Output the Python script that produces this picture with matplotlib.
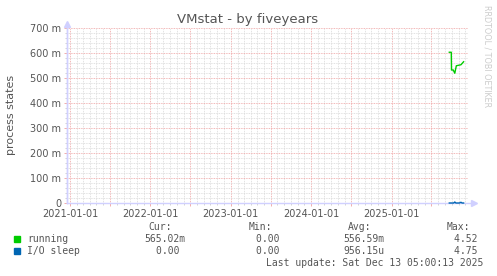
import matplotlib
matplotlib.use('Agg')
import matplotlib.pyplot as plt
import matplotlib.dates as mdates
from matplotlib.ticker import MultipleLocator, FuncFormatter
import numpy as np
import datetime as dt

# values
running_dates = ['2025-09-20', '2025-09-29', '2025-09-30', '2025-10-08',
                 '2025-10-15', '2025-10-22', '2025-11-12', '2025-11-24']
running = [0.603, 0.603, 0.532, 0.532, 0.519, 0.549, 0.553, 0.565]
iosleep_dates = ['2025-09-20', '2025-10-10', '2025-10-15', '2025-10-20',
                 '2025-11-05', '2025-11-12', '2025-11-17', '2025-11-24']
iosleep = [0.0, 0.0, 0.004, 0.0, 0.0, 0.003, 0.0, 0.0]

series = ['running', 'I/O sleep']
colors = ['#00cc00', '#0066b3']
cur = ['565.02m', '0.00 ']
mins = ['0.00 ', '0.00 ']
avgs = ['556.59m', '956.15u']
maxs = ['4.52 ', '4.75 ']
last_update = 'Last update: Sat Dec 13 05:00:13 2025'

W, H = 497, 276
fig = plt.figure(figsize=(W / 100, H / 100), dpi=100)
fig.patch.set_facecolor('white')
ax = fig.add_axes([67 / W, 1 - 203 / H, (468 - 67) / W, (203 - 28) / H])

rd = [np.datetime64(d) for d in running_dates]
idt = [np.datetime64(d) for d in iosleep_dates]
ax.plot(idt, iosleep, color=colors[1], lw=1.0, zorder=5, clip_on=False)
ax.plot(rd, running, color=colors[0], lw=1.0, zorder=6)

ax.set_xlim(dt.date(2020, 12, 18), dt.date(2025, 12, 14))
ax.set_ylim(0, 0.7)

# grid
ax.yaxis.set_major_locator(MultipleLocator(0.1))
ax.yaxis.set_minor_locator(MultipleLocator(0.02))
ax.yaxis.set_major_formatter(FuncFormatter(
    lambda v, p: '0' if abs(v) < 1e-9 else '%d m' % round(v * 1000)))
ax.xaxis.set_major_locator(mdates.MonthLocator(bymonth=[1, 7]))
ax.xaxis.set_minor_locator(mdates.MonthLocator())
ax.xaxis.set_major_formatter(FuncFormatter(
    lambda v, p: mdates.num2date(v).strftime('%Y-%m-%d')
    if mdates.num2date(v).month == 1 else ''))

ax.grid(which='minor', color='#d8d8d8', lw=0.6, ls=(0, (1, 1)))
ax.grid(which='major', color='#eea0a0', lw=0.6, ls=(0, (1, 1)))
ax.set_axisbelow(True)

ax.tick_params(which='major', length=2, width=0.6, color='#f0a0a0',
               labelsize=7, labelcolor='#555555', pad=2)
ax.tick_params(which='minor', length=1.5, width=0.6, color='#cccccc')

for s in ['top', 'right']:
    ax.spines[s].set_visible(False)
ax.spines['bottom'].set_visible(False)
ax.spines['left'].set_color('#d0d0ff')
ax.spines['left'].set_linewidth(1.0)

# axis lines with arrows as in rrdtool
axis_c = '#d0d0ff'
ax.plot([0, 1.012], [0, 0], transform=ax.transAxes, color=axis_c, lw=1.0,
        clip_on=False, zorder=4)
ax.plot([0, 0], [0, 1.015], transform=ax.transAxes, color=axis_c, lw=1.0,
        clip_on=False, zorder=4)
ax.plot([1.014], [0], transform=ax.transAxes, marker='>', ms=4, color=axis_c,
        clip_on=False, zorder=4)
ax.plot([0], [1.022], transform=ax.transAxes, marker='^', ms=4, color=axis_c,
        clip_on=False, zorder=4)

fig.text(11 / W, 1 - 115 / H, 'process states', rotation=90, ha='center',
         va='center', fontsize=8, color='#555555')
fig.text(248 / W, 1 - 19 / H, 'VMstat - by fiveyears', ha='center',
         va='center', fontsize=9.5, color='#555555')
fig.text(487 / W, 1 - 5 / H, 'RRDTOOL / TOBI OETIKER', rotation=270,
         ha='center', va='top', fontsize=5.8, color='#cccccc')

# legend block
mono = dict(family='DejaVu Sans Mono', fontsize=7, color='#555555')
hdr_y = 1 - 227 / H
fig.text(172 / W, hdr_y, 'Cur:', ha='right', va='center', **mono)
fig.text(272 / W, hdr_y, 'Min:', ha='right', va='center', **mono)
fig.text(371 / W, hdr_y, 'Avg:', ha='right', va='center', **mono)
fig.text(470 / W, hdr_y, 'Max:', ha='right', va='center', **mono)
for i, name in enumerate(series):
    y = 1 - (239 + 12 * i) / H
    fig.patches.append(plt.Rectangle((14 / W, y - 2.8 / H), 6 / W, 6 / H,
                                     transform=fig.transFigure,
                                     color=colors[i]))
    fig.text(27 / W, y, name, ha='left', va='center', **mono)
    fig.text(185 / W, y, cur[i], ha='right', va='center', **mono)
    fig.text(285 / W, y, mins[i], ha='right', va='center', **mono)
    fig.text(384 / W, y, avgs[i], ha='right', va='center', **mono)
    fig.text(483 / W, y, maxs[i], ha='right', va='center', **mono)
fig.text(483 / W, 1 - 263 / H, last_update, ha='right', va='center', **mono)

fig.savefig('out.png', dpi=100)
